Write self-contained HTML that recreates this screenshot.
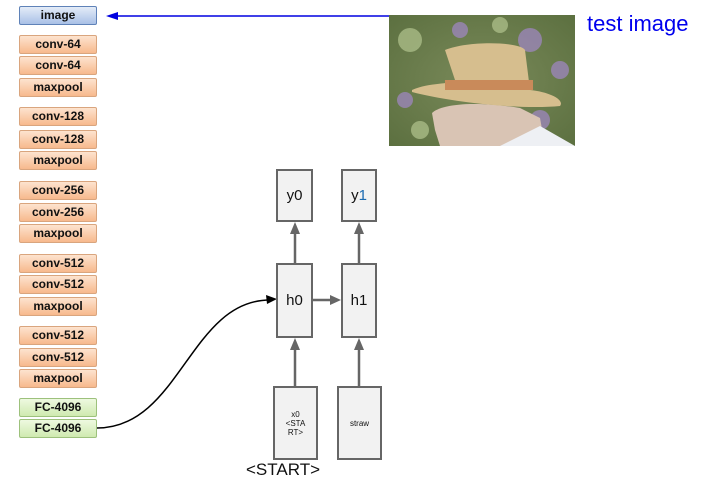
<!DOCTYPE html>
<html><head><style>
body{margin:0;width:707px;height:483px;background:#fff;position:relative;overflow:hidden;font-family:"Liberation Sans",sans-serif}
.b{position:absolute;left:19px;width:76px;height:17px;border:1px solid #d9a57e;border-radius:2px;background:linear-gradient(#fde3cf,#f7b98d);font-weight:bold;font-size:12px;text-align:center;line-height:17px;color:#111}
.g{border-color:#9dc17c;background:linear-gradient(#eef9e0,#cfeab0)}
.i{border-color:#5f82b8;background:linear-gradient(#e4ecf8,#a9c0e6)}
.n{position:absolute;background:#f2f2f2;border:2px solid #666;box-sizing:border-box;display:flex;align-items:center;justify-content:center;font-size:15px;color:#111;text-align:center}
</style></head><body>
<div class="b i" style="top:6px">image</div>
<div class="b" style="top:35px">conv-64</div>
<div class="b" style="top:56px">conv-64</div>
<div class="b" style="top:78px">maxpool</div>
<div class="b" style="top:107px">conv-128</div>
<div class="b" style="top:130px">conv-128</div>
<div class="b" style="top:151px">maxpool</div>
<div class="b" style="top:181px">conv-256</div>
<div class="b" style="top:203px">conv-256</div>
<div class="b" style="top:224px">maxpool</div>
<div class="b" style="top:254px">conv-512</div>
<div class="b" style="top:275px">conv-512</div>
<div class="b" style="top:297px">maxpool</div>
<div class="b" style="top:326px">conv-512</div>
<div class="b" style="top:348px">conv-512</div>
<div class="b" style="top:369px">maxpool</div>
<div class="b g" style="top:398px">FC-4096</div>
<div class="b g" style="top:419px">FC-4096</div>

<svg style="position:absolute;left:0;top:0" width="707" height="483">
<line x1="389" y1="16" x2="116" y2="16" stroke="#0000e0" stroke-width="1.5"/>
<polygon points="106,16 118,12 118,20" fill="#0000e0"/>
<path d="M97,428 C180,428 190,300 270,300" fill="none" stroke="#000" stroke-width="1.5"/>
<polygon points="277,299 266,295 267,304" fill="#000"/>
<g stroke="#666" stroke-width="2.5">
<line x1="295" y1="263" x2="295" y2="232"/><line x1="359" y1="263" x2="359" y2="232"/>
<line x1="295" y1="386" x2="295" y2="348"/><line x1="359" y1="386" x2="359" y2="348"/>
<line x1="313" y1="300" x2="332" y2="300"/>
</g>
<g fill="#666">
<polygon points="295,222 290,234 300,234"/><polygon points="359,222 354,234 364,234"/>
<polygon points="295,338 290,350 300,350"/><polygon points="359,338 354,350 364,350"/>
<polygon points="341,300 330,295 330,305"/>
</g>
<defs><radialGradient id="bg" cx="0.5" cy="0.5" r="0.7"><stop offset="0" stop-color="#7a8a5a"/><stop offset="1" stop-color="#5c7040"/></radialGradient></defs>
<rect x="389" y="15" width="186" height="131" fill="url(#bg)"/>
<g fill="#9b86b8" opacity="0.8"><circle cx="530" cy="40" r="12"/><circle cx="560" cy="70" r="9"/><circle cx="540" cy="120" r="10"/><circle cx="405" cy="100" r="8"/><circle cx="460" cy="30" r="8"/></g>
<g fill="#a9bb86" opacity="0.8"><circle cx="410" cy="40" r="12"/><circle cx="500" cy="25" r="8"/><circle cx="420" cy="130" r="9"/></g>
<path d="M432,113 C440,105 470,100 520,108 L540,118 L545,146 L440,146 L435,130 Z" fill="#d9c4b4"/>
<path d="M540,126 L575,146 L500,146 Z" fill="#eef0f4"/>
<path d="M412,90 C430,82 450,85 455,80 L445,50 C470,40 520,42 525,50 L530,90 C550,92 565,100 560,106 C520,110 450,102 412,92 Z" fill="#d6be8e"/>
<rect x="445" y="80" width="88" height="10" fill="#c98a5a"/>
</svg>
<div style="position:absolute;left:587px;top:11px;font-size:22px;color:#0000ee">test image</div>
<div class="n" style="left:276px;top:169px;width:37px;height:53px">y0</div>
<div class="n" style="left:341px;top:169px;width:36px;height:53px">y<span style="color:#1a6ab0">1</span></div>
<div class="n" style="left:276px;top:263px;width:37px;height:75px">h0</div>
<div class="n" style="left:341px;top:263px;width:36px;height:75px">h1</div>
<div class="n" style="left:273px;top:386px;width:45px;height:74px;font-size:8px;line-height:9px">x0<br>&lt;STA<br>RT&gt;</div>
<div class="n" style="left:337px;top:386px;width:45px;height:74px;font-size:8px">straw</div>
<div style="position:absolute;left:246px;top:460px;font-size:17px;color:#111">&lt;START&gt;</div>
</body></html>
